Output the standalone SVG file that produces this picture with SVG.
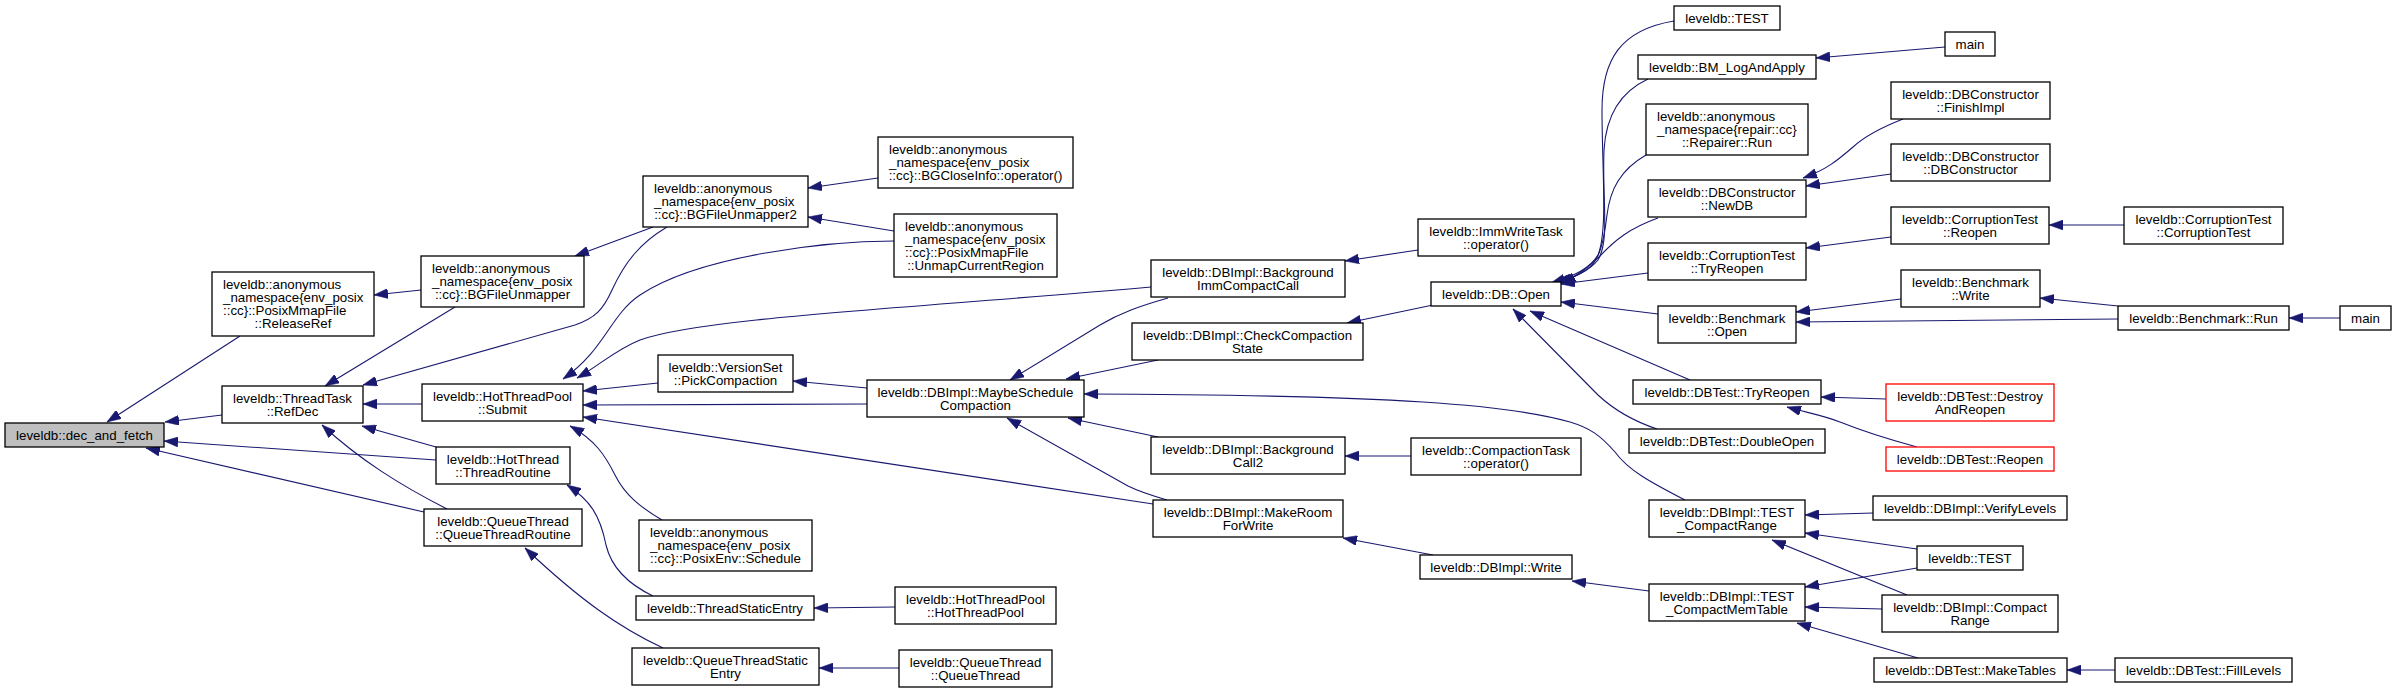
<svg xmlns="http://www.w3.org/2000/svg" width="2396" height="693" viewBox="0 0 2396 693">
<style>
.node rect{fill:#fff;stroke:#000;stroke-width:1.3}
.root rect{fill:#bfbfbf}
.red rect{stroke:#ff0000}
text{font-family:"Liberation Sans",Arial,Helvetica,sans-serif;font-size:13.3px;fill:#000}
.c{text-anchor:middle}
.l{text-anchor:start}
.edges path{fill:none;stroke:#191970;stroke-width:1.1;marker-end:url(#ah)}
</style>
<defs>
<marker id="ah" markerUnits="userSpaceOnUse" viewBox="0 0 14 10" refX="14" refY="5" markerWidth="14" markerHeight="10" orient="auto">
<path d="M0,0 L14,5 L0,10 z" fill="#191970" stroke="#191970" stroke-width="0.5"/>
</marker>
</defs>
<rect width="2396" height="693" fill="#fff"/>
<g id="edges" class="edges">
<path d="M240,336 L107,422"/>
<path d="M222,415 L165,422"/>
<path d="M436,460 L164,441"/>
<path d="M424,512 L146,448"/>
<path d="M455,307 L325,386"/>
<path d="M667,227 C640,243 625,262 612,290 C603,310 595,318 575,325 L363,385"/>
<path d="M422,404 L363,404"/>
<path d="M436,447 L362,426"/>
<path d="M447,509 C400,485 360,460 322,425"/>
<path d="M421,290 L374,295"/>
<path d="M653,227 L575,256"/>
<path d="M878,178 L808,188"/>
<path d="M894,231 L808,217"/>
<path d="M894,241 C830,241 700,255 640,295 C610,315 605,350 563,379"/>
<path d="M1151,287 C900,309 700,318 640,340 C615,350 600,365 577,378"/>
<path d="M658,383 L583,391"/>
<path d="M867,404 L583,405"/>
<path d="M1153,504 L583,417"/>
<path d="M662,520 C640,507 625,495 615,475 C605,455 595,440 570,426"/>
<path d="M867,388 L793,381"/>
<path d="M653,596 C630,585 612,570 606,545 C600,515 590,500 567,485"/>
<path d="M663,648 C620,628 580,600 525,548"/>
<path d="M895,607 L814,608"/>
<path d="M899,668 L819,668"/>
<path d="M1168,298 C1140,306 1120,313 1100,325 L1010,380"/>
<path d="M1158,360 L1066,379"/>
<path d="M1685,500 C1650,482 1628,470 1615,452 C1600,435 1590,428 1570,422 C1510,405 1400,395 1084,394"/>
<path d="M1158,437 L1068,418"/>
<path d="M1167,500 C1150,495 1140,492 1128,486 L1007,418"/>
<path d="M1418,250 L1345,261"/>
<path d="M1433,305 L1347,323"/>
<path d="M1411,456 L1345,456"/>
<path d="M1433,555 L1343,538"/>
<path d="M1649,591 L1572,581"/>
<path d="M1674,21 C1620,30 1602,60 1602,110 C1602,170 1608,230 1598,255 C1590,268 1575,276 1551,283"/>
<path d="M1648,79 C1620,92 1606,115 1604,150 C1602,200 1610,240 1598,260 C1590,270 1578,277 1555,283"/>
<path d="M1646,155 C1620,170 1610,190 1607,215 C1604,240 1600,258 1590,267 C1582,274 1572,278 1558,283"/>
<path d="M1658,218 C1630,228 1615,240 1600,256 C1590,266 1580,274 1562,284"/>
<path d="M1648,273 L1561,284"/>
<path d="M1658,314 L1561,302"/>
<path d="M1690,380 L1530,311"/>
<path d="M1657,429 C1630,420 1612,408 1598,395 L1513,309"/>
<path d="M1945,47 L1816,58"/>
<path d="M1903,119 C1880,128 1865,136 1853,147 C1838,160 1826,170 1803,178"/>
<path d="M1891,174 L1806,186"/>
<path d="M1891,237 L1806,248"/>
<path d="M2124,225 L2049,225"/>
<path d="M1901,299 L1796,312"/>
<path d="M2118,319 L1796,322"/>
<path d="M2118,306 L2040,298"/>
<path d="M2340,318 L2289,318"/>
<path d="M1886,399 L1821,397"/>
<path d="M1917,447 C1880,437 1860,430 1840,422 C1822,415 1808,413 1787,407"/>
<path d="M1873,513 L1805,515"/>
<path d="M1917,549 L1805,533"/>
<path d="M1907,595 L1772,540"/>
<path d="M1917,568 L1805,587"/>
<path d="M1882,609 L1805,607"/>
<path d="M1918,658 L1797,623"/>
<path d="M2115,670 L2067,670"/>
</g>
<g id="n0" class="node root"><rect x="5" y="423" width="159" height="24"/><text class="c" x="84.5" y="439.5">leveldb::dec_and_fetch</text></g>
<g id="n1" class="node"><rect x="212" y="272" width="162" height="64"/><text class="l" x="223" y="289">leveldb::anonymous</text><text class="l" x="223" y="302">_namespace{env_posix</text><text class="l" x="223" y="315">::cc}::PosixMmapFile</text><text class="c" x="293" y="328">::ReleaseRef</text></g>
<g id="n2" class="node"><rect x="222" y="386" width="141" height="37"/><text class="c" x="292.5" y="402.5">leveldb::ThreadTask</text><text class="c" x="292.5" y="415.5">::RefDec</text></g>
<g id="n3" class="node"><rect x="421" y="256" width="163" height="51"/><text class="l" x="432" y="273">leveldb::anonymous</text><text class="l" x="432" y="286">_namespace{env_posix</text><text class="c" x="502.5" y="299">::cc}::BGFileUnmapper</text></g>
<g id="n4" class="node"><rect x="422" y="384" width="161" height="37"/><text class="c" x="502.5" y="400.5">leveldb::HotThreadPool</text><text class="c" x="502.5" y="413.5">::Submit</text></g>
<g id="n5" class="node"><rect x="436" y="447" width="134" height="37"/><text class="c" x="503" y="463.5">leveldb::HotThread</text><text class="c" x="503" y="476.5">::ThreadRoutine</text></g>
<g id="n6" class="node"><rect x="424" y="509" width="158" height="37"/><text class="c" x="503" y="525.5">leveldb::QueueThread</text><text class="c" x="503" y="538.5">::QueueThreadRoutine</text></g>
<g id="n7" class="node"><rect x="643" y="176" width="165" height="51"/><text class="l" x="654" y="193">leveldb::anonymous</text><text class="l" x="654" y="206">_namespace{env_posix</text><text class="c" x="725.5" y="219">::cc}::BGFileUnmapper2</text></g>
<g id="n8" class="node"><rect x="658" y="355" width="135" height="37"/><text class="c" x="725.5" y="371.5">leveldb::VersionSet</text><text class="c" x="725.5" y="384.5">::PickCompaction</text></g>
<g id="n9" class="node"><rect x="639" y="520" width="173" height="51"/><text class="l" x="650" y="537">leveldb::anonymous</text><text class="l" x="650" y="550">_namespace{env_posix</text><text class="c" x="725.5" y="563">::cc}::PosixEnv::Schedule</text></g>
<g id="n10" class="node"><rect x="636" y="596" width="178" height="24"/><text class="c" x="725" y="612.5">leveldb::ThreadStaticEntry</text></g>
<g id="n11" class="node"><rect x="632" y="648" width="187" height="37"/><text class="c" x="725.5" y="664.5">leveldb::QueueThreadStatic</text><text class="c" x="725.5" y="677.5">Entry</text></g>
<g id="n12" class="node"><rect x="878" y="137" width="195" height="51"/><text class="l" x="889" y="154">leveldb::anonymous</text><text class="l" x="889" y="167">_namespace{env_posix</text><text class="c" x="975.5" y="180">::cc}::BGCloseInfo::operator()</text></g>
<g id="n13" class="node"><rect x="894" y="214" width="163" height="63"/><text class="l" x="905" y="230.5">leveldb::anonymous</text><text class="l" x="905" y="243.5">_namespace{env_posix</text><text class="l" x="905" y="256.5">::cc}::PosixMmapFile</text><text class="c" x="975.5" y="269.5">::UnmapCurrentRegion</text></g>
<g id="n14" class="node"><rect x="867" y="380" width="217" height="37"/><text class="c" x="975.5" y="396.5">leveldb::DBImpl::MaybeSchedule</text><text class="c" x="975.5" y="409.5">Compaction</text></g>
<g id="n15" class="node"><rect x="895" y="587" width="161" height="37"/><text class="c" x="975.5" y="603.5">leveldb::HotThreadPool</text><text class="c" x="975.5" y="616.5">::HotThreadPool</text></g>
<g id="n16" class="node"><rect x="899" y="650" width="153" height="37"/><text class="c" x="975.5" y="666.5">leveldb::QueueThread</text><text class="c" x="975.5" y="679.5">::QueueThread</text></g>
<g id="n17" class="node"><rect x="1151" y="260" width="194" height="37"/><text class="c" x="1248" y="276.5">leveldb::DBImpl::Background</text><text class="c" x="1248" y="289.5">ImmCompactCall</text></g>
<g id="n18" class="node"><rect x="1132" y="323" width="231" height="37"/><text class="c" x="1247.5" y="339.5">leveldb::DBImpl::CheckCompaction</text><text class="c" x="1247.5" y="352.5">State</text></g>
<g id="n19" class="node"><rect x="1151" y="437" width="194" height="37"/><text class="c" x="1248" y="453.5">leveldb::DBImpl::Background</text><text class="c" x="1248" y="466.5">Call2</text></g>
<g id="n20" class="node"><rect x="1153" y="500" width="190" height="37"/><text class="c" x="1248" y="516.5">leveldb::DBImpl::MakeRoom</text><text class="c" x="1248" y="529.5">ForWrite</text></g>
<g id="n21" class="node"><rect x="1418" y="219" width="156" height="37"/><text class="c" x="1496" y="235.5">leveldb::ImmWriteTask</text><text class="c" x="1496" y="248.5">::operator()</text></g>
<g id="n22" class="node"><rect x="1431" y="282" width="130" height="24"/><text class="c" x="1496" y="298.5">leveldb::DB::Open</text></g>
<g id="n23" class="node"><rect x="1411" y="438" width="170" height="37"/><text class="c" x="1496" y="454.5">leveldb::CompactionTask</text><text class="c" x="1496" y="467.5">::operator()</text></g>
<g id="n24" class="node"><rect x="1420" y="555" width="152" height="24"/><text class="c" x="1496" y="571.5">leveldb::DBImpl::Write</text></g>
<g id="n25" class="node"><rect x="1674" y="6" width="106" height="24"/><text class="c" x="1727" y="22.5">leveldb::TEST</text></g>
<g id="n26" class="node"><rect x="1638" y="55" width="178" height="24"/><text class="c" x="1727" y="71.5">leveldb::BM_LogAndApply</text></g>
<g id="n27" class="node"><rect x="1646" y="104" width="162" height="51"/><text class="l" x="1657" y="121">leveldb::anonymous</text><text class="l" x="1657" y="134">_namespace{repair::cc}</text><text class="c" x="1727" y="147">::Repairer::Run</text></g>
<g id="n28" class="node"><rect x="1648" y="180" width="158" height="37"/><text class="c" x="1727" y="196.5">leveldb::DBConstructor</text><text class="c" x="1727" y="209.5">::NewDB</text></g>
<g id="n29" class="node"><rect x="1648" y="243" width="158" height="37"/><text class="c" x="1727" y="259.5">leveldb::CorruptionTest</text><text class="c" x="1727" y="272.5">::TryReopen</text></g>
<g id="n30" class="node"><rect x="1658" y="306" width="138" height="37"/><text class="c" x="1727" y="322.5">leveldb::Benchmark</text><text class="c" x="1727" y="335.5">::Open</text></g>
<g id="n31" class="node"><rect x="1633" y="380" width="188" height="24"/><text class="c" x="1727" y="396.5">leveldb::DBTest::TryReopen</text></g>
<g id="n32" class="node"><rect x="1629" y="429" width="196" height="24"/><text class="c" x="1727" y="445.5">leveldb::DBTest::DoubleOpen</text></g>
<g id="n33" class="node"><rect x="1649" y="500" width="156" height="37"/><text class="c" x="1727" y="516.5">leveldb::DBImpl::TEST</text><text class="c" x="1727" y="529.5">_CompactRange</text></g>
<g id="n34" class="node"><rect x="1649" y="584" width="156" height="37"/><text class="c" x="1727" y="600.5">leveldb::DBImpl::TEST</text><text class="c" x="1727" y="613.5">_CompactMemTable</text></g>
<g id="n35" class="node"><rect x="1945" y="32" width="50" height="24"/><text class="c" x="1970" y="48.5">main</text></g>
<g id="n36" class="node"><rect x="1891" y="82" width="159" height="37"/><text class="c" x="1970.5" y="98.5">leveldb::DBConstructor</text><text class="c" x="1970.5" y="111.5">::FinishImpl</text></g>
<g id="n37" class="node"><rect x="1891" y="144" width="159" height="37"/><text class="c" x="1970.5" y="160.5">leveldb::DBConstructor</text><text class="c" x="1970.5" y="173.5">::DBConstructor</text></g>
<g id="n38" class="node"><rect x="1891" y="207" width="158" height="37"/><text class="c" x="1970" y="223.5">leveldb::CorruptionTest</text><text class="c" x="1970" y="236.5">::Reopen</text></g>
<g id="n39" class="node"><rect x="1901" y="270" width="139" height="37"/><text class="c" x="1970.5" y="286.5">leveldb::Benchmark</text><text class="c" x="1970.5" y="299.5">::Write</text></g>
<g id="n40" class="node red"><rect x="1886" y="384" width="168" height="37"/><text class="c" x="1970" y="400.5">leveldb::DBTest::Destroy</text><text class="c" x="1970" y="413.5">AndReopen</text></g>
<g id="n41" class="node red"><rect x="1886" y="447" width="168" height="24"/><text class="c" x="1970" y="463.5">leveldb::DBTest::Reopen</text></g>
<g id="n42" class="node"><rect x="1873" y="496" width="194" height="24"/><text class="c" x="1970" y="512.5">leveldb::DBImpl::VerifyLevels</text></g>
<g id="n43" class="node"><rect x="1917" y="546" width="106" height="24"/><text class="c" x="1970" y="562.5">leveldb::TEST</text></g>
<g id="n44" class="node"><rect x="1882" y="595" width="176" height="37"/><text class="c" x="1970" y="611.5">leveldb::DBImpl::Compact</text><text class="c" x="1970" y="624.5">Range</text></g>
<g id="n45" class="node"><rect x="1874" y="658" width="193" height="24"/><text class="c" x="1970.5" y="674.5">leveldb::DBTest::MakeTables</text></g>
<g id="n46" class="node"><rect x="2124" y="207" width="159" height="37"/><text class="c" x="2203.5" y="223.5">leveldb::CorruptionTest</text><text class="c" x="2203.5" y="236.5">::CorruptionTest</text></g>
<g id="n47" class="node"><rect x="2118" y="306" width="171" height="24"/><text class="c" x="2203.5" y="322.5">leveldb::Benchmark::Run</text></g>
<g id="n48" class="node"><rect x="2115" y="658" width="177" height="24"/><text class="c" x="2203.5" y="674.5">leveldb::DBTest::FillLevels</text></g>
<g id="n49" class="node"><rect x="2340" y="306" width="51" height="24"/><text class="c" x="2365.5" y="322.5">main</text></g>
</svg>
